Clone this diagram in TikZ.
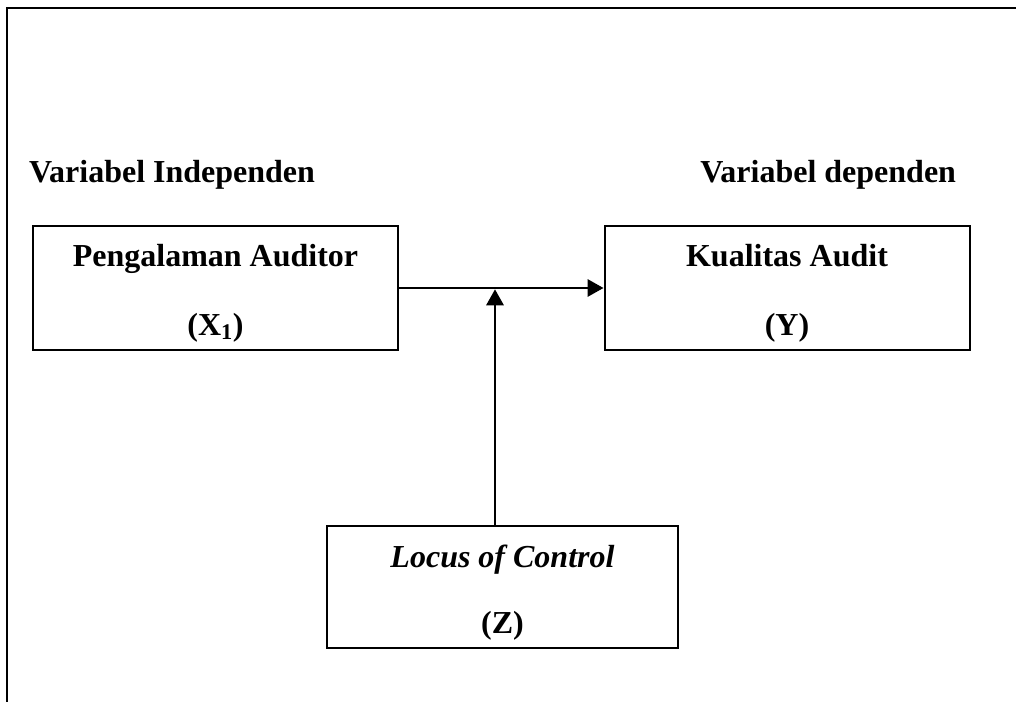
\documentclass[tikz,border=0pt]{standalone}
\usepackage{fontspec}
\setmainfont{Liberation Serif}
\usepackage{tikz}
\usetikzlibrary{arrows.meta}
\def\boxwd{365}
\def\boxht{124}

\begin{document}
\begin{tikzpicture}[x=0.75pt,y=-0.75pt,line width=1.5pt,font=\fontsize{24}{28}\selectfont\bfseries]
            \tikzstyle{var}=[draw,rectangle,minimum width=\boxwd*0.75pt,minimum height=\boxht*0.75pt,inner sep=0pt]
            \tikzstyle{lbl}=[anchor=base,inner sep=0pt]
            \tikzstyle{arr}=[-{Triangle[length=12pt,width=13pt]},line width=1.6pt]

            \useasboundingbox (0,0) rectangle (1016,702);

            % Draw the frame (top and left side only)
            \draw (7,702) -- (7,8) -- (1016,8);

            % Annotate the columns
            \node[lbl,anchor=base west] (indep) at (28,183) {Variabel Independen};
            \node[lbl,anchor=base east] (dep) at (957,183) {Variabel dependen};

            % Draw the variable boxes
            \node[var] (X) at (215.5,288) {};
            \node[var] (Y) at (787,288) {};
            \node[var,minimum width=351*0.75pt,minimum height=122*0.75pt] (Z) at (502.5,587) {};

            \node[lbl] (X-a) at (215.5,267) {Pengalaman Auditor};
            \node[lbl] (X-b) at (215.5,335) {(X\textsubscript{1})};
            \node[lbl] (Y-a) at (787,267) {Kualitas Audit};
            \node[lbl] (Y-b) at (787,335) {(Y)};
            \node[lbl] (Z-a) at (502.5,567) {\itshape Locus of Control};
            \node[lbl] (Z-b) at (502.5,633) {(Z)};

            % Connect the boxes
            \coordinate (M) at (495,288);
            \draw[arr] (X.east) -- (Y.west);
            \draw[arr] (Z.north -| M) -- ([yshift=-1pt]M);
        \end{tikzpicture}
\end{document}
